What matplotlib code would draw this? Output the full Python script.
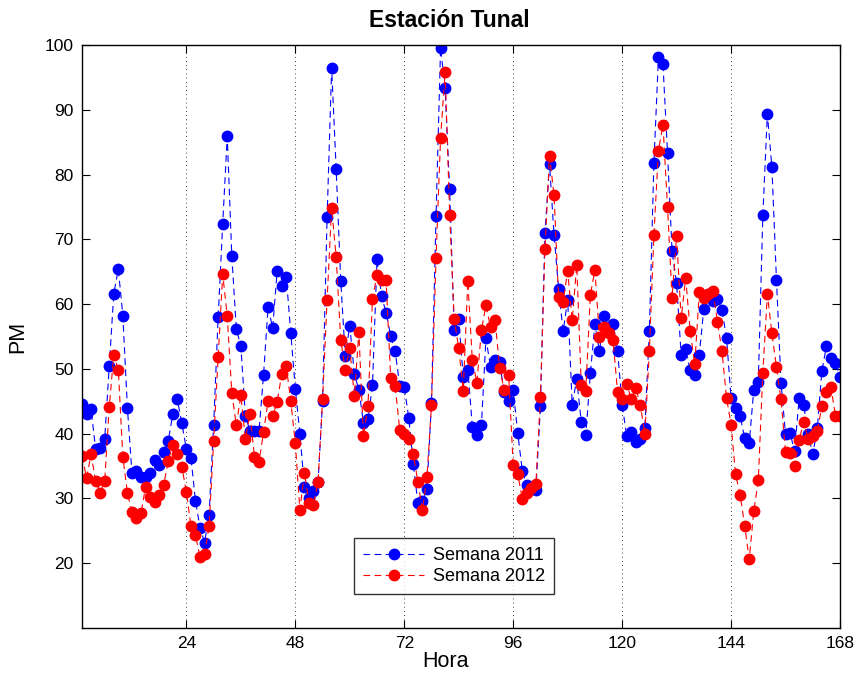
import numpy as np
import matplotlib.pyplot as plt

plt.rcParams['font.family'] = ['Liberation Sans', 'DejaVu Sans']

# Hourly PM values over one week (hour 1..168)
hora = np.arange(1, 169)

pm_2011 = [
    44.6, 43.0, 43.8, 37.6, 37.8, 39.2, 50.5, 61.6, 65.4, 58.2, 44.0, 34.0,
    34.2, 33.3, 33.3, 33.9, 36.0, 35.1, 37.1, 38.9, 43.0, 45.3, 41.6, 37.6,
    36.3, 29.6, 25.5, 23.2, 27.5, 41.4, 58.0, 72.4, 85.9, 67.5, 56.2, 53.5,
    42.8, 40.4, 40.4, 40.4, 49.1, 59.6, 56.3, 65.1, 62.8, 64.2, 55.6, 46.9,
    40.0, 31.8, 30.0, 31.2, 32.5, 45.0, 73.4, 96.4, 80.8, 63.6, 52.0, 56.7,
    49.2, 46.8, 41.7, 42.2, 47.5, 66.9, 61.2, 58.7, 55.1, 52.7, 47.4, 47.2,
    42.4, 35.3, 29.3, 29.6, 31.5, 44.8, 73.6, 99.6, 93.3, 77.7, 56.0, 57.7,
    48.7, 49.9, 41.1, 39.8, 41.3, 54.7, 50.3, 51.4, 51.0, 46.5, 45.1, 46.7,
    40.1, 34.3, 32.1, 31.8, 31.3, 44.2, 71.0, 81.6, 70.7, 62.4, 55.8, 60.7,
    44.5, 48.4, 41.8, 39.8, 49.3, 56.9, 52.7, 58.2, 56.5, 56.9, 52.8, 44.5,
    39.7, 40.3, 38.7, 39.2, 40.9, 55.8, 81.8, 98.1, 97.0, 83.4, 68.2, 63.2,
    52.2, 53.0, 49.8, 49.0, 52.2, 59.3, 61.5, 60.5, 60.8, 59.1, 54.8, 45.5,
    44.0, 42.7, 39.3, 38.5, 46.8, 48.0, 73.7, 89.4, 81.1, 63.8, 47.9, 39.9,
    40.1, 37.3, 45.5, 44.4, 39.9, 36.8, 40.8, 49.6, 53.5, 51.7, 50.9, 48.8,
]

pm_2012 = [
    36.6, 33.2, 36.8, 32.7, 30.9, 32.7, 44.1, 52.2, 49.8, 36.4, 30.9, 27.9,
    27.0, 27.7, 31.8, 30.3, 29.5, 30.6, 32.1, 35.8, 38.3, 36.8, 34.9, 31.0,
    25.7, 24.3, 21.0, 21.5, 25.7, 38.8, 51.9, 64.6, 58.2, 46.3, 41.3, 45.9,
    39.2, 43.1, 36.4, 35.7, 40.2, 45.1, 42.7, 44.9, 49.2, 50.4, 45.0, 38.5,
    28.2, 34.0, 29.3, 29.0, 32.6, 45.3, 60.7, 74.9, 67.2, 54.5, 49.9, 53.2,
    45.8, 55.7, 39.6, 44.3, 60.8, 64.5, 63.8, 63.7, 48.6, 47.3, 40.6, 40.0,
    39.2, 36.8, 32.6, 28.2, 33.3, 44.4, 67.1, 85.7, 95.8, 73.8, 57.7, 53.2,
    46.6, 63.6, 51.3, 47.9, 56.0, 59.8, 56.4, 57.6, 50.2, 46.8, 49.0, 35.1,
    33.8, 29.9, 30.9, 31.6, 32.3, 45.6, 68.5, 82.9, 76.8, 61.1, 60.4, 65.1,
    57.5, 66.0, 47.5, 46.6, 61.4, 65.3, 54.9, 56.4, 55.5, 54.4, 46.4, 45.4,
    47.7, 45.4, 47.0, 44.5, 39.9, 52.7, 70.6, 83.7, 87.7, 75.0, 61.0, 70.5,
    57.8, 64.0, 55.9, 50.7, 61.8, 61.0, 61.5, 62.0, 57.3, 52.7, 45.5, 41.4,
    33.7, 30.6, 25.8, 20.6, 28.0, 32.8, 49.4, 61.5, 55.5, 50.3, 45.3, 37.2,
    37.0, 35.0, 39.0, 41.8, 39.2, 39.7, 40.4, 44.2, 46.4, 47.2, 42.8, 42.8,
]

x_ticks = [24, 48, 72, 96, 120, 144, 168]
y_ticks = [20, 30, 40, 50, 60, 70, 80, 90, 100]

fig = plt.figure(figsize=(8.56, 6.79), dpi=100)
ax = fig.add_axes([0.0958, 0.0751, 0.8855, 0.8586])

dash = (0, (6, 4))
ax.plot(hora, pm_2011, linestyle=dash, color='#0000ff', linewidth=0.8,
        marker='o', markersize=7.5, markerfacecolor='#0000ff',
        markeredgecolor='#0000ff', label='Semana 2011')
ax.plot(hora, pm_2012, linestyle=dash, color='#ff0000', linewidth=0.8,
        marker='o', markersize=7.5, markerfacecolor='#ff0000',
        markeredgecolor='#ff0000', label='Semana 2012')

ax.set_xlim(1, 168)
ax.set_ylim(10, 100)
ax.set_xticks(x_ticks)
ax.set_yticks(y_ticks)
ax.xaxis.grid(True, linestyle=(0, (1, 4)), color='black', linewidth=0.6)
ax.tick_params(direction='in', length=6, top=True, right=True,
               labelsize=12.5, pad=6)
for s in ax.spines.values():
    s.set_linewidth(1.0)

ax.set_xlabel('Hora', fontsize=15.5)
ax.xaxis.set_label_coords(0.48, -0.04)
ax.set_ylabel('PM', fontsize=15.5)
ax.yaxis.set_label_coords(-0.071, 0.5)
ax.set_title('Estación Tunal', fontsize=16.5, fontweight='bold',
             x=0.485, pad=13)

leg = ax.legend(loc='center', bbox_to_anchor=(0.491, 0.106), fontsize=13,
                frameon=True, fancybox=False, edgecolor='black',
                handlelength=3.4, handletextpad=0.5, borderpad=0.5,
                labelspacing=0.25, borderaxespad=0)
leg.get_frame().set_linewidth(1.0)

fig.savefig('out.png', dpi=100)
